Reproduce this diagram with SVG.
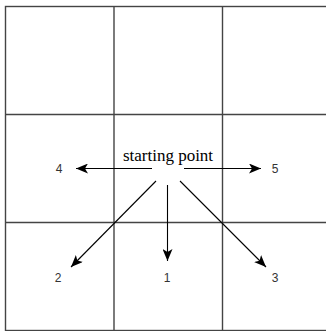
<svg xmlns="http://www.w3.org/2000/svg" width="326" height="331" viewBox="0 0 326 331">
<style>
.grid{stroke:#444;stroke-width:1.4;fill:none}
.arr{stroke:#000;stroke-width:1.1;fill:none;marker-end:url(#ah)}
.lbl{font-family:"Liberation Sans",Arial,sans-serif;font-size:12px;fill:#333;text-anchor:middle}
.start{font-family:"Liberation Serif","Times New Roman",serif;font-size:17px;fill:#000;text-anchor:middle}
</style>
<defs>
<marker id="ah" viewBox="0 0 12 10" refX="12" refY="5" markerWidth="12" markerHeight="10" markerUnits="userSpaceOnUse" orient="auto">
<path d="M0,0 L12,5 L0,10 L3,5 Z" fill="#000"/>
</marker>
</defs>
<rect width="326" height="331" fill="#fff"/>
<g id="grid">
<rect class="grid" x="5.5" y="6.5" width="325.5" height="324"/>
<line class="grid" x1="114" y1="6.5" x2="114" y2="330.5"/>
<line class="grid" x1="222.5" y1="6.5" x2="222.5" y2="330.5"/>
<line class="grid" x1="5.5" y1="114.5" x2="331" y2="114.5"/>
<line class="grid" x1="5.5" y1="222.5" x2="331" y2="222.5"/>
</g>
<g id="start"><text class="start" x="168" y="161">starting point</text></g>
<g id="connectors">
<line class="arr" x1="152" y1="168.5" x2="76" y2="168.5"/>
<line class="arr" x1="184" y1="168.5" x2="261" y2="168.5"/>
<line class="arr" x1="167.5" y1="185" x2="167.5" y2="261"/>
<line class="arr" x1="156" y1="181" x2="71" y2="267"/>
<line class="arr" x1="180" y1="181" x2="266" y2="267"/>
</g>
<g id="n4"><text class="lbl" x="59" y="173">4</text></g>
<g id="n5"><text class="lbl" x="275" y="173">5</text></g>
<g id="n2"><text class="lbl" x="58" y="282">2</text></g>
<g id="n1"><text class="lbl" x="167" y="282">1</text></g>
<g id="n3"><text class="lbl" x="275" y="282">3</text></g>
</svg>
